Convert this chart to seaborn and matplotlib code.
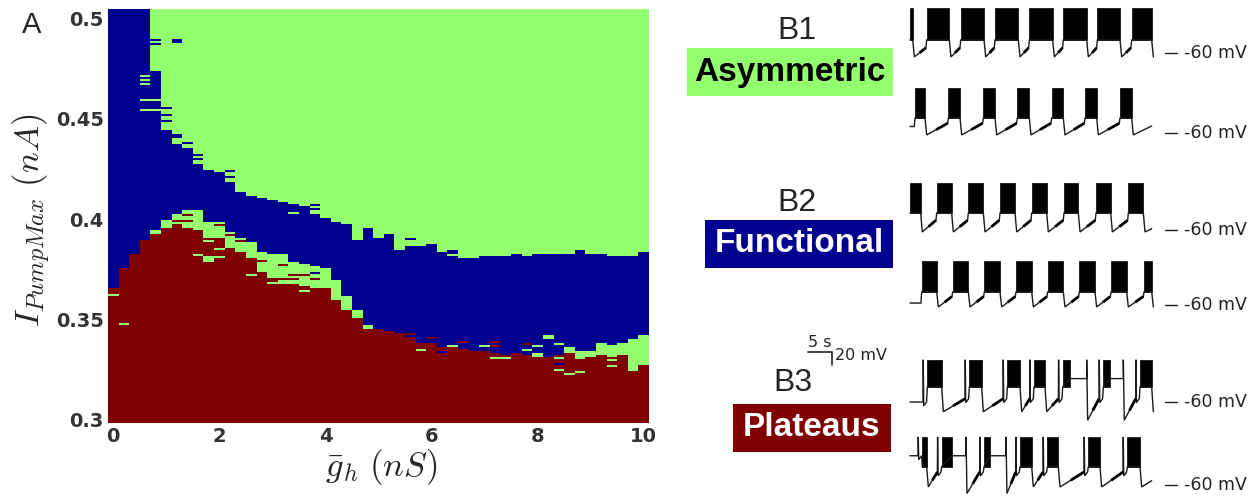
import numpy as np
import pandas as pd
import matplotlib
matplotlib.use('Agg')
import matplotlib.pyplot as plt
import seaborn as sns
from matplotlib.colors import ListedColormap
from matplotlib.patches import Rectangle

sns.set_style('white')
plt.rcParams['font.family'] = ['DejaVu Sans']
plt.rcParams['mathtext.fontset'] = 'cm'

# ---------------- data: regime map ----------------
g_h = [0.0, 0.2, 0.4, 0.6, 0.8, 1.0, 1.2, 1.4, 1.6, 1.8, 2.0, 2.2, 2.4, 2.6, 2.8, 3.0, 3.2,
       3.4, 3.6, 3.8, 4.0, 4.2, 4.4, 4.6, 4.8, 5.0, 5.2, 5.4, 5.6, 5.8, 6.0, 6.2, 6.4, 6.6,
       6.8, 7.0, 7.2, 7.4, 7.6, 7.8, 8.0, 8.2, 8.4, 8.6, 8.8, 9.0, 9.2, 9.4, 9.6, 9.8, 10.0]
# upper limit of Plateaus (red) region
red_top = [0.3657, 0.3757, 0.3823, 0.3893, 0.3927, 0.3953, 0.3977, 0.3960, 0.3948, 0.3903,
           0.3903, 0.3857, 0.3840, 0.3807, 0.3740, 0.3707, 0.3673, 0.3673, 0.3665, 0.3657,
           0.3657, 0.3598, 0.3548, 0.3507, 0.3465, 0.3457, 0.3448, 0.3440, 0.3415, 0.3390,
           0.3382, 0.3373, 0.3373, 0.3357, 0.3348, 0.3348, 0.3332, 0.3323, 0.3332, 0.3323,
           0.3315, 0.3315, 0.3323, 0.3332, 0.3307, 0.3315, 0.3323, 0.3323, 0.3332, 0.3248,
           0.3273]
# upper limit of the lower Asymmetric (green) band above the red region
band_top = [0.3657, 0.3757, 0.3823, 0.3893, 0.3945, 0.3998, 0.4027, 0.4043, 0.4043, 0.3990,
            0.3982, 0.3940, 0.3910, 0.3890, 0.3840, 0.3823, 0.3823, 0.3782, 0.3773, 0.3765,
            0.3757, 0.3698, 0.3615, 0.3548, 0.3473, 0.3457, 0.3448, 0.3440, 0.3415, 0.3390,
            0.3382, 0.3373, 0.3373, 0.3357, 0.3348, 0.3348, 0.3332, 0.3323, 0.3332, 0.3323,
            0.3315, 0.3315, 0.3323, 0.3365, 0.3348, 0.3348, 0.3390, 0.3373, 0.3382, 0.3407,
            0.3423]
# upper limit of Functional (blue) region
blue_top = [0.51, 0.51, 0.51, 0.51, 0.4740, 0.4448, 0.4373, 0.4357, 0.4273, 0.4248,
            0.4237, 0.4182, 0.4132, 0.4115, 0.4107, 0.4098, 0.4087, 0.4077, 0.4065, 0.4023,
            0.4007, 0.3990, 0.3977, 0.3898, 0.3953, 0.3907, 0.3923, 0.3848, 0.3865, 0.3865,
            0.3873, 0.3832, 0.3815, 0.3810, 0.3810, 0.3815, 0.3815, 0.3820, 0.3823, 0.3820,
            0.3823, 0.3823, 0.3823, 0.3827, 0.3843, 0.3827, 0.3827, 0.3815, 0.3820, 0.3815,
            0.3837]
# isolated cells (0 = Plateaus, 1 = Functional, 2 = Asymmetric)
speck_g = [0.8, 0.8, 1.2, 1.2, 0.6, 0.6, 0.6, 0.6, 0.6, 0.8, 0.8, 1.0, 1.0, 1.0, 1.2, 1.2,
           1.4, 1.6, 1.6, 2.2, 2.2, 3.4, 3.8, 3.8,
           0.0, 0.2, 1.4, 1.2, 1.2, 1.4, 1.8, 1.6, 1.8, 1.8, 1.8, 2.0, 2.0, 2.0, 2.2, 2.4,
           2.6, 2.8, 3.0, 3.2, 3.2, 3.4, 3.4, 3.4, 3.6, 3.8, 3.8, 3.6, 4.8, 5.6, 5.8, 6.0,
           6.2, 6.2, 6.4, 5.6, 6.4, 6.4,
           6.6, 7.0, 7.2, 7.2, 7.8, 7.2, 7.4, 7.8, 8.0, 8.2, 8.2, 8.0, 8.0, 8.4, 8.4, 8.4,
           8.4, 8.6, 8.8, 8.8, 9.4, 9.4, 9.4, 9.6]
speck_I = [0.4893, 0.4870, 0.4885, 0.4875, 0.4707, 0.4685, 0.4665, 0.4590, 0.4543, 0.4590,
           0.4543, 0.4553, 0.4515, 0.4490, 0.4423, 0.4408, 0.4380, 0.4323, 0.4298, 0.4238,
           0.4213, 0.4035, 0.4073, 0.4053,
           0.3620, 0.3480, 0.4023, 0.3990, 0.3940, 0.3990, 0.3893, 0.3823, 0.3807, 0.3797,
           0.3787, 0.3965, 0.3848, 0.3810, 0.3920, 0.3885, 0.3715, 0.3790, 0.3680, 0.3765,
           0.3695, 0.4032, 0.3723, 0.3698, 0.3720, 0.3732, 0.3698, 0.3640, 0.3457, 0.3432,
           0.3348, 0.3407, 0.3365, 0.3340, 0.3373, 0.3903, 0.3843, 0.3830,
           0.3387, 0.3373, 0.3387, 0.3373, 0.3380, 0.3310, 0.3310, 0.3348, 0.3373, 0.3415,
           0.3407, 0.3330, 0.3315, 0.3380, 0.3307, 0.3282, 0.3248, 0.3232, 0.3332, 0.3240,
           0.3315, 0.3300, 0.3265, 0.3332]
speck_regime = [1, 1, 1, 1, 2, 2, 2, 2, 2, 2, 2, 1, 1, 1, 1, 1, 1, 1, 1, 1, 1, 1, 1, 1,
                2, 2, 0, 0, 0, 0, 2, 2, 2, 2, 2, 0, 2, 2, 0, 0, 2, 0, 2, 0, 0, 2, 0, 0, 0, 1,
                0, 2, 2, 0, 2, 0, 1, 1, 2, 1, 1, 1,
                0, 2, 0, 0, 0, 2, 2, 2, 2, 2, 2, 2, 2, 2, 2, 1, 2, 2, 2, 2, 2, 2, 2, 2]
I_top, I_bottom, I_step = 0.504, 0.299, 0.001
regime_colors = ['#800000', '#00008F', '#93FF6E']
x_ticks = [0, 2, 4, 6, 8, 10]
y_ticks = [0.3, 0.35, 0.4, 0.45, 0.5]
y_tick_labels = ['0.3', '0.35', '0.4', '0.45', '0.5']

# ---------------- data: voltage traces (burst on/off times, s) ----------------
b1a_on = [0.0, 3.47, 10.56, 17.71, 24.86, 31.94, 39.03, 46.18]
b1a_off = [0.56, 8.19, 15.42, 22.57, 29.72, 36.81, 43.75, 50.35]
b1b_on = [1.04, 7.99, 15.28, 22.36, 29.51, 36.46, 43.75]
b1b_off = [3.13, 10.42, 17.71, 24.86, 31.94, 38.89, 46.18]
b2a_on = [0.0, 5.56, 12.15, 18.75, 25.35, 32.08, 38.75, 45.49]
b2a_off = [2.22, 8.68, 15.28, 21.88, 28.47, 35.07, 41.81, 48.61]
b2b_on = [2.43, 8.89, 15.49, 22.08, 28.68, 35.28, 41.88, 48.75]
b2b_off = [5.56, 12.15, 18.75, 25.35, 31.94, 38.54, 45.14, 50.35]
b3a_on = [3.61, 12.36, 20.28, 25.83, 31.81, 40.28, 47.92]
b3a_off = [6.60, 14.93, 22.92, 28.13, 33.33, 41.67, 50.35]
b3a_plateau_end = [np.nan, np.nan, np.nan, np.nan, 36.81, 44.44, np.nan]
b3b_on = [2.57, 6.60, 15.42, 22.92, 28.61, 37.15, 45.28]
b3b_off = [3.47, 8.68, 16.67, 25.35, 30.90, 39.58, 47.92]
b3b_plateau_end = [np.nan, 11.67, 20.0, np.nan, np.nan, np.nan, np.nan]
# levels (mV): spike top, burst floor, trough, deep trough, pre-burst, plateau
b1a_lv = [9, -40, -66, -66, -52, -40]
b1b_lv = [10, -37, -63, -63, -45, -37]
b2a_lv = [12, -34, -63, -63, -45, -34]
b2b_lv = [7, -40, -63, -63, -47, -40]
b3a_lv = [5, -37, -75, -88, -55, -24]
b3b_lv = [14, -32, -63, -73, -40, -15]
trace_end = 50.35

# ---------------- figure ----------------
W, H = 1256, 497
fig = plt.figure(figsize=(W / 100, H / 100), dpi=100)
fig.patch.set_facecolor('white')

# ---- panel A: regime map ----
I_rows = np.round(np.arange(I_top, I_bottom - I_step / 2, -I_step), 4)
G = np.array(g_h)
Ic = I_rows[:, None]
mat = np.where(Ic < np.array(red_top)[None, :], 0,
               np.where(Ic < np.array(band_top)[None, :], 2,
                        np.where(Ic < np.array(blue_top)[None, :], 1, 2)))
for g, iv, rg in zip(speck_g, speck_I, speck_regime):
    c = int(np.argmin(np.abs(G - g)))
    r = int(np.argmin(np.abs(I_rows - iv)))
    mat[r, c] = rg
df = pd.DataFrame(mat, index=I_rows, columns=G)

ax = fig.add_axes([108 / W, 1 - 423 / H, 541 / W, 414 / H])
sns.heatmap(df, ax=ax, cmap=ListedColormap(regime_colors), vmin=-0.5, vmax=2.5,
            cbar=False, xticklabels=False, yticklabels=False)
ax.set_xticks([g / 0.2 + 0.5 for g in x_ticks])
ax.set_xticklabels([str(g) for g in x_ticks])
ax.set_yticks([(I_top - v) / I_step + 0.5 for v in y_ticks])
ax.set_yticklabels(y_tick_labels, rotation=0)
ax.tick_params(length=0, pad=3, labelsize=14, labelcolor='#333333')
for t in ax.get_xticklabels() + ax.get_yticklabels():
    t.set_fontweight('bold')
ax.set_xlabel('')
ax.set_ylabel('')
fig.text(381 / W, 1 - 467 / H, r'$\bar{g}_h\ (nS)$', fontsize=25, ha='center', va='center')
fig.text(32 / W, 1 - 220 / H, r'$I_{PumpMax}\ (nA)$', fontsize=25, ha='center', va='center',
         rotation=90)
fig.text(32 / W, 1 - 25 / H, 'A', fontsize=21, ha='center', va='center',
         family='Liberation Sans')

# ---- panel B: traces ----
ax2 = fig.add_axes([660 / W, 0, 596 / W, 1])
ax2.set_xlim((660 - 910) * 5 / 24, (1256 - 910) * 5 / 24)
ax2.set_ylim(0, H * 20 / 13)
ax2.axis('off')


def draw_trace(axx, on, off, lv, y_px, pend=None, v_start=None, prespike=False):
    top, bot, tr, deep, pre, plat = lv
    off_mv = (H - y_px) * 20 / 13 + 60
    pts = []
    ramps = []
    if on[0] > 0:
        v0 = v_start if v_start is not None else pre
        pts.append((0, v0))
        if prespike:
            pts += [(on[0] - 0.9, v0), (on[0] - 0.85, top), (on[0] - 0.75, v0 - 6)]
        pts.append((on[0] - 0.15, v0))
    pts.append((on[0], bot))
    last_tr = tr
    tseg = off[-1]
    for i in range(len(on)):
        axx.fill_between([on[i], off[i]], bot + off_mv, top + off_mv, color='black',
                         lw=0.5, edgecolor='black')
        if pend is not None and not np.isnan(pend[i]):
            pts += [(off[i], plat), (pend[i], plat), (pend[i], top), (pend[i] + 0.2, deep)]
            tseg = pend[i] + 0.2
            last_tr = deep
        else:
            pts += [(off[i], bot), (off[i] + 0.35, tr)]
            tseg = off[i] + 0.35
            last_tr = tr
        if i + 1 < len(on):
            nxt = on[i + 1]
            end_ramp = nxt - 0.9 if prespike else nxt - 0.15
            mid = tseg + 0.45 * (end_ramp - tseg)
            ramps.append(([mid, end_ramp],
                          [last_tr + 0.45 * (pre - last_tr) + off_mv, pre + off_mv]))
            if prespike:
                pts += [(nxt - 0.9, pre), (nxt - 0.85, top), (nxt - 0.75, pre - 6)]
            pts += [(nxt - 0.15, pre), (nxt, bot)]
    if trace_end > tseg + 0.1:
        frac = min(1.0, (trace_end - tseg) / 5.0)
        pts.append((trace_end, last_tr + (pre - last_tr) * frac))
    xs = [p[0] for p in pts]
    ys = [p[1] + off_mv for p in pts]
    axx.plot(xs, ys, color='#1a1a1a', lw=1.0, solid_joinstyle='miter')
    for rx, ry in ramps:
        axx.plot(rx, ry, color='black', lw=2.0, solid_capstyle='butt')
    # -60 mV marker
    axx.plot([53.1, 55.6], [off_mv - 60] * 2, color='#222222', lw=1.0)
    axx.text(57.0, off_mv - 60, '-60 mV', fontsize=12.5, color='#222222', va='center',
             ha='left')


draw_trace(ax2, b1a_on, b1a_off, b1a_lv, 53)
draw_trace(ax2, b1b_on, b1b_off, b1b_lv, 133, v_start=-50)
draw_trace(ax2, b2a_on, b2a_off, b2a_lv, 230)
draw_trace(ax2, b2b_on, b2b_off, b2b_lv, 305, v_start=-57)
draw_trace(ax2, b3a_on, b3a_off, b3a_lv, 402, pend=b3a_plateau_end, v_start=-60,
           prespike=True)
draw_trace(ax2, b3b_on, b3b_off, b3b_lv, 485, pend=b3b_plateau_end, v_start=b3b_lv[5],
           prespike=True)

# scale bar 5 s / 20 mV
sb_y = (H - 352) * 20 / 13
ax2.plot([-21.25, -16.25, -16.25], [sb_y, sb_y, sb_y - 20], color='#222222', lw=1.2)
ax2.text(-18.9, sb_y + 3, '5 s', fontsize=11.5, ha='center', va='bottom', color='#222222')
ax2.text(-15.7, sb_y - 6, '20 mV', fontsize=11.5, ha='left', va='center', color='#222222')


# regime labels
def label_box(x0, y0, x1, y1, text, color, tcolor):
    fig.patches.append(Rectangle((x0 / W, 1 - y1 / H), (x1 - x0) / W, (y1 - y0) / H,
                                 transform=fig.transFigure, facecolor=color,
                                 edgecolor='none', zorder=2))
    fig.text((x0 + x1) / 2 / W, 1 - (y0 + y1) / 2 / H, text, fontsize=24,
             fontweight='bold', color=tcolor, ha='center', va='center',
             family='Liberation Sans', zorder=3)


fig.text(797 / W, 1 - 31 / H, 'B1', fontsize=23, ha='center', va='center',
         family='Liberation Sans')
label_box(687, 48, 893, 96, 'Asymmetric', regime_colors[2], 'black')
fig.text(797 / W, 1 - 203 / H, 'B2', fontsize=23, ha='center', va='center',
         family='Liberation Sans')
label_box(705, 220, 893, 268, 'Functional', regime_colors[1], 'white')
fig.text(793 / W, 1 - 383 / H, 'B3', fontsize=23, ha='center', va='center',
         family='Liberation Sans')
label_box(733, 404, 891, 452, 'Plateaus', regime_colors[0], 'white')

fig.savefig('out.png', dpi=100, facecolor='white')
